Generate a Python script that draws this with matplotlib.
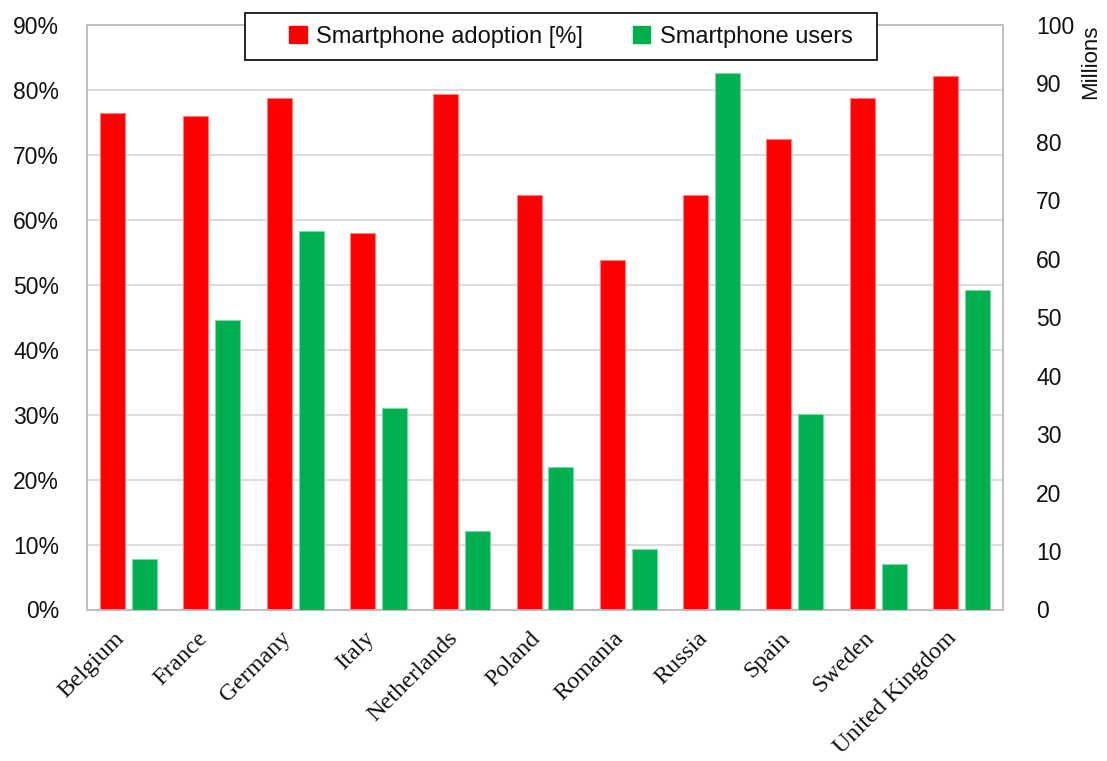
import numpy as np
import matplotlib
matplotlib.use("Agg")
import matplotlib.pyplot as plt
import matplotlib.transforms as mtransforms
from matplotlib.ticker import PercentFormatter, MultipleLocator
from matplotlib.patches import Patch, Rectangle

plt.rcParams["font.family"] = ["Liberation Sans", "DejaVu Sans"]

countries = ["Belgium", "France", "Germany", "Italy", "Netherlands", "Poland",
             "Romania", "Russia", "Spain", "Sweden", "United Kingdom"]
adoption_pct = [76.5, 76.0, 78.7, 57.9, 79.3, 63.9, 53.8, 63.8, 72.4, 78.7, 82.1]
users_millions = [8.7, 49.6, 64.8, 34.4, 13.5, 24.3, 10.4, 91.8, 33.5, 7.8, 54.6]

RED = "#FF0000"
GREEN = "#00B050"
GRID = "#D9D9D9"
FRAME = "#BFBFBF"
INK = "#111111"

W, H = 1107, 761
fig = plt.figure(figsize=(W / 100, H / 100), dpi=100)
ax = fig.add_axes([87 / W, 1 - 609.5 / H, (1003 - 87) / W, (609.5 - 25) / H])
ax2 = ax.twinx()

x = np.arange(len(countries))
w = 0.30
off = 0.192

ax.bar(x - off, adoption_pct, width=w, color=RED, edgecolor="#FF7F7F",
       linewidth=0.8, zorder=3)
ax2.bar(x + off, users_millions, width=w, color=GREEN, edgecolor="#7FD7A7",
        linewidth=0.8, zorder=3)

ax.set_xlim(-0.5, len(countries) - 0.5)
ax.set_ylim(0, 90)
ax2.set_ylim(0, 100)
ax.yaxis.set_major_locator(MultipleLocator(10))
ax.yaxis.set_major_formatter(PercentFormatter(decimals=0))
ax2.yaxis.set_major_locator(MultipleLocator(10))

ax.grid(axis="y", color=GRID, linewidth=1.3, zorder=0)
ax.set_axisbelow(True)

for a in (ax, ax2):
    for s in a.spines.values():
        s.set_color(FRAME)
        s.set_linewidth(1.3)
    a.tick_params(length=0, labelsize=16.5, labelcolor=INK)
ax.tick_params(axis="y", pad=20)
ax2.tick_params(axis="y", pad=24)

# rotated serif country names, nudged left so they end near the tick
ax.set_xticks(x)
ax.set_xticklabels(countries, rotation=45, ha="right", va="top",
                   rotation_mode="anchor", family="Liberation Serif", fontsize=17.5)
ax.tick_params(axis="x", pad=13)
nudge = mtransforms.ScaledTranslation(-15 / 100, 0, fig.dpi_scale_trans)
for lbl in ax.get_xticklabels():
    lbl.set_transform(lbl.get_transform() + nudge)

fig.text(1091 / W, 1 - 25 / H, "Millions", rotation=90, ha="center",
         va="top", fontsize=16, color=INK)

# legend box sits over the top of the plot frame
fig.patches.append(Rectangle((245 / W, 1 - 60 / H), (877 - 245) / W, 47 / H,
                             transform=fig.transFigure, facecolor="white",
                             edgecolor="black", linewidth=1.2, zorder=5))
handles = [Patch(facecolor=RED, edgecolor=RED, label="Smartphone adoption [%]"),
           Patch(facecolor=GREEN, edgecolor=GREEN, label="Smartphone users")]
leg = fig.legend(handles=handles, loc="center left", ncol=2,
                 bbox_to_anchor=(289 / W, 1 - 36.5 / H), fontsize=17,
                 frameon=False, handlelength=0.75, handleheight=0.75,
                 handletextpad=0.4, columnspacing=2.1, borderpad=0,
                 borderaxespad=0, labelcolor=INK)
leg.set_zorder(10)

fig.savefig("out.png", dpi=100)
